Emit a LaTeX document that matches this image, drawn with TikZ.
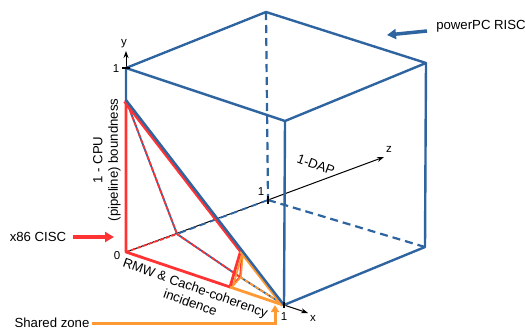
\documentclass[tikz,border=0pt]{standalone}
\usepackage{fontspec}
\setmainfont{Liberation Sans}
\usetikzlibrary{arrows.meta,calc}
\definecolor{cblue}{RGB}{46,100,160}
\definecolor{cred}{RGB}{255,51,51}
\definecolor{corange}{RGB}{255,153,51}
\tikzset{
  lbl/.style={font=\fontsize{13.2}{15.5}\selectfont, inner sep=0pt},
  small/.style={font=\fontsize{11.5}{13}\selectfont, inner sep=0pt},
  cube/.style={draw=cblue, line width=2.4pt, line join=round},
  hidden/.style={draw=cblue, line width=2.2pt, dash pattern=on 8pt off 5pt},
  axis/.style={draw=black, line width=1pt},
  redline/.style={draw=cred, line width=2.8pt, line join=round},
  orline/.style={draw=corange, line width=2.8pt, line join=round},
  reddash/.style={draw=cred, line width=1.8pt, dash pattern=on 4pt off 2pt},
  ordash/.style={draw=corange, line width=1.8pt, dash pattern=on 4pt off 2pt},
  bluethin/.style={draw=cblue, line width=1.8pt},
}
\begin{document}
\begin{tikzpicture}[x=1pt,y=-1pt]
\useasboundingbox (0,0) rectangle (525,330);
% cube vertices
\coordinate (O) at (126,252);
\coordinate (Y1) at (126,68);
\coordinate (X1) at (284,305);
\coordinate (XY) at (285,121);
\coordinate (YZ) at (266,12);
\coordinate (XYZ) at (426,63);
\coordinate (XZ) at (425,247);
\coordinate (Z1) at (268,200);
% region points
\coordinate (A) at (126,100);
\coordinate (B) at (230,287);
\coordinate (C) at (242,250);
\coordinate (D) at (177,234);
\coordinate (E) at (240,277);
% axes ends
\coordinate (Yend) at (126,51);
\coordinate (Xend) at (308,313);
\coordinate (Zend) at (384,157);

% axes
\draw[axis] (O) -- (Z1);
\draw[axis,-{Stealth[length=7pt,width=5pt]}] (Z1) -- (Zend);
\draw[axis,-{Stealth[length=7pt,width=5pt]}] (X1) -- (Xend);
\draw[axis,-{Stealth[length=7pt,width=5pt]}] (Y1) -- (Yend);

% hidden cube edges
\draw[hidden] (YZ) -- (Z1);
\draw[hidden] (Z1) -- (XZ);
\draw[draw=cblue,line width=1.8pt,dash pattern=on 7pt off 4pt] (Z1) -- (D);

% red region
\draw[bluethin] (A) -- (D);
\draw[reddash] (A) -- (D);
\draw[reddash] (O) -- (D);
\draw[bluethin] (D) -- (E);
\draw[reddash] (D) -- (E);
\draw[redline] ($(A)+(-1.5,1.5)$) -- ($(C)+(-1.5,1.5)$) -- (B) -- (O) -- (A);
\draw[draw=cred,line width=1.6pt] (C) -- (E) -- (B);

% orange region
\draw[bluethin] (E) -- (X1);
\draw[ordash] (E) -- (X1);
\draw[orline] ($(C)+(-1.5,1.5)$) -- ($(X1)+(-1.5,0.5)$);
\draw[orline] (B) -- ($(X1)+(-1,0)$);
\draw[draw=corange,line width=1.8pt] ($(C)+(1,1)$) -- ($(B)+(3,-1)$);
\draw[draw=corange,line width=1.5pt] ($(C)+(1,3)$) -- ($(E)+(1,0)$) -- ($(B)+(2,0)$);

% visible cube edges
\draw[cube] (A) -- (Y1) -- (YZ) -- (XYZ) -- (XY) -- (Y1);
\draw[cube] (XY) -- (X1) -- (XZ) -- (XYZ);
\draw[cube] (A) -- (X1);

% ticks
\draw[axis,line width=1.8pt] ($(Y1)+(-4,0)$) -- ($(Y1)+(4,0)$);
\draw[axis,line width=1.8pt] ($(Z1)+(0,-4)$) -- ($(Z1)+(0,4)$);
\draw[axis,line width=1.8pt] ($(X1)+(0,-3)$) -- ($(X1)+(0,3)$);

% axis labels
\node[small] (ly) at (124,44) {y};
\node[small] (l1y) at (116,69) {1};
\node[small] (l0) at (117,256) {0};
\node[small] (l1x) at (284,317) {1};
\node[small] (lx) at (313,318) {x};
\node[small] (l1z) at (261,192) {1};
\node[small] (lz) at (389,149) {z};

\node[lbl,rotate=90,align=center] (cpu) at (107,160) {1 - CPU\\(pipeline) boundness};
\node[lbl,rotate=-19.5,align=center] (rmw) at (193,295) {RMW \& Cache-coherency\\incidence};
\node[lbl,rotate=-20] (dap) at (316,165) {1-DAP};

% side labels
\node[lbl] (x86) at (38,237) {x86 CISC};
\coordinate (x86a) at (73,237);
\coordinate (x86b) at (114,237);
\draw[draw=cred,line width=3.5pt,-{Triangle[length=9pt,width=10pt]}] (x86a) -- (x86b);

\node[lbl] (ppc) at (481,26) {powerPC RISC};
\coordinate (ppca) at (427,31);
\coordinate (ppcb) at (387,35);
\draw[draw=cblue,line width=3.5pt,-{Triangle[length=9pt,width=10pt]}] (ppca) -- (ppcb);

\node[lbl] (shared) at (52,323) {Shared zone};
\coordinate (sha) at (92,323);
\coordinate (shb) at (275,323);
\coordinate (shc) at (275,305);
\draw[draw=corange,line width=3pt,line join=miter,-{Triangle[length=7pt,width=8pt]}] (sha) -- (shb) -- (shc);
\end{tikzpicture}
\end{document}
